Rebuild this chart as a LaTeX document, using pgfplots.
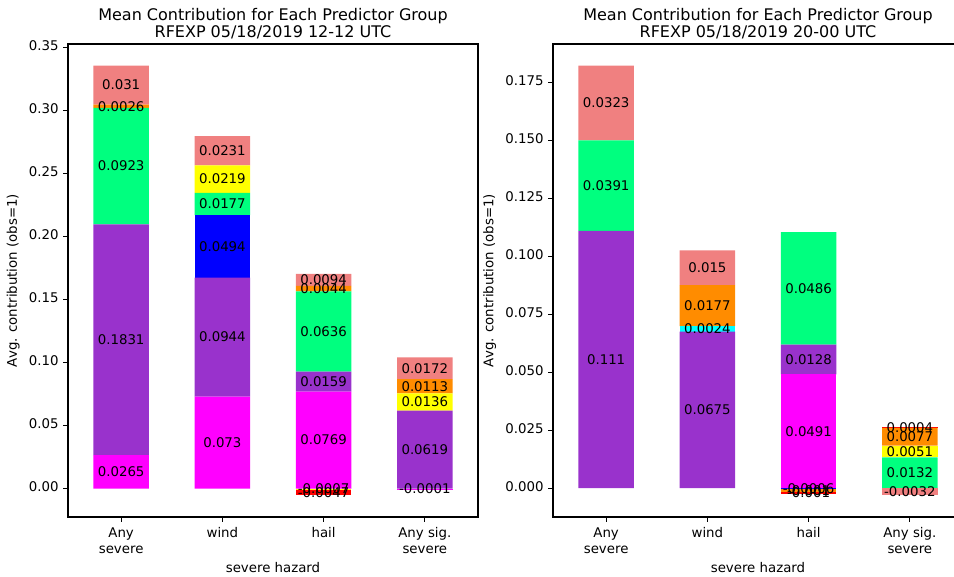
\documentclass[border=0pt]{standalone}
\usepackage{pgfplots}
\pgfplotsset{compat=1.18}
\usepackage{pgfplotstable}
\usepackage{fontspec}
\setmainfont{DejaVu Sans}

\definecolor{cmag}{HTML}{FF00FF}
\definecolor{cpur}{HTML}{9932CC}
\definecolor{cblu}{HTML}{0000FF}
\definecolor{ccya}{HTML}{00FFFF}
\definecolor{cgrn}{HTML}{00FF7F}
\definecolor{cyel}{HTML}{FFFF00}
\definecolor{corg}{HTML}{FF8C00}
\definecolor{cred}{HTML}{FF0000}
\definecolor{csal}{HTML}{F08080}

% Left panel (12-12 UTC): positive contributions
\pgfplotstableread{
x mag pur blu grn yel org sal
0 0.0265 0.1831 0 0.0923 0 0.0026 0.031
1 0.073 0.0944 0.0494 0.0177 0.0219 0 0.0231
2 0.0769 0.0159 0 0.0636 0 0.0044 0.0094
3 0 0.0619 0 0 0.0136 0.0113 0.0172
}\posA
% Left panel: negative contributions
\pgfplotstableread{
x nmag nyel nred
0 0 0 0
1 0 0 0
2 0 -0.0007 -0.0047
3 -0.0001 0 0
}\negA
% Right panel (20-00 UTC): positive contributions
\pgfplotstableread{
x mag pur cya grn yel org red sal
0 0 0.111 0 0.0391 0 0 0 0.0323
1 0 0.0675 0.0024 0 0 0.0177 0 0.015
2 0.0491 0.0128 0 0.0486 0 0 0 0
3 0 0 0 0.0132 0.0051 0.0077 0.0004 0
}\posB
% Right panel: negative contributions
\pgfplotstableread{
x nblu norg nred nsal
0 0 0 0 0
1 0 0 0 0
2 -0.0006 -0.001 -0.001 0
3 0 0 0 -0.0032
}\negB

\pgfplotsset{
  seg/.style 2 args={fill=#2, draw=none, point meta=explicit},
  base/.style={
    scale only axis, width=307.5pt, height=354.75pt,
    anchor=south west,
    ybar stacked, bar width=0.55,
    xmin=-0.525, xmax=3.525,
    /pgf/number format/assume math mode=true,
    nodes near coords={\pgfmathfloatifflags{\pgfplotspointmeta}{0}{}{\pgfmathprintnumber{\pgfplotspointmeta}}},
    nodes near coords align={center},
    every node near coord/.append style={font=\fontsize{10}{12}\selectfont, text=black,
       inner sep=0pt, anchor=center,
       /pgf/number format/fixed, /pgf/number format/precision=4},
  },
  frame/.style={
    tick pos=left, tick align=outside,
    scaled y ticks=false,
    axis line style={line width=0.8pt, black},
    major tick style={line width=0.8pt, black},
    major tick length=3.6pt,
    tick label style={font=\fontsize{10}{12}\selectfont},
    xtick={0,1,2,3},
    xticklabels={{Any\\severe},{wind},{hail},{Any sig.\\severe}},
    xticklabel style={align=center, text depth=0pt},
    typeset ticklabels with strut,
    xlabel={severe hazard}, ylabel={Avg. contribution (obs=1)},
    label style={font=\fontsize{10}{12}\selectfont},
    title style={align=center, font=\fontsize{12}{13}\selectfont, yshift=-6pt},
  },
}

\begin{document}
\begin{tikzpicture}
% ---------- Left panel ----------
\begin{axis}[base, frame, at={(51pt,45pt)},
  ymin=-0.0225, ymax=0.3526,
  ytick={0,0.05,0.1,0.15,0.2,0.25,0.3,0.35},
  yticklabel style={/pgf/number format/fixed, /pgf/number format/fixed zerofill, /pgf/number format/precision=2},
  title={Mean Contribution for Each Predictor Group\\RFEXP 05/18/2019 12-12 UTC}]
\addplot[seg={mag}{cmag}] table[x=x,y=mag,meta=mag]{\posA};
\addplot[seg={pur}{cpur}] table[x=x,y=pur,meta=pur]{\posA};
\addplot[seg={blu}{cblu}] table[x=x,y=blu,meta=blu]{\posA};
\addplot[seg={grn}{cgrn}] table[x=x,y=grn,meta=grn]{\posA};
\addplot[seg={yel}{cyel}] table[x=x,y=yel,meta=yel]{\posA};
\addplot[seg={org}{corg}] table[x=x,y=org,meta=org]{\posA};
\addplot[seg={sal}{csal}] table[x=x,y=sal,meta=sal]{\posA};
\end{axis}
\begin{axis}[base, hide axis, at={(51pt,45pt)},
  ymin=-0.0225, ymax=0.3526]
\addplot[seg={nmag}{cmag}] table[x=x,y=nmag,meta=nmag]{\negA};
\addplot[seg={nyel}{cyel}] table[x=x,y=nyel,meta=nyel]{\negA};
\addplot[seg={nred}{cred}] table[x=x,y=nred,meta=nred]{\negA};
\end{axis}
% ---------- Right panel ----------
\begin{axis}[base, frame, at={(414.75pt,45pt)},
  ymin=-0.0125, ymax=0.1917,
  ytick={0,0.025,0.05,0.075,0.1,0.125,0.15,0.175},
  yticklabel style={/pgf/number format/fixed, /pgf/number format/fixed zerofill, /pgf/number format/precision=3},
  title={Mean Contribution for Each Predictor Group\\RFEXP 05/18/2019 20-00 UTC}]
\addplot[seg={mag}{cmag}] table[x=x,y=mag,meta=mag]{\posB};
\addplot[seg={pur}{cpur}] table[x=x,y=pur,meta=pur]{\posB};
\addplot[seg={cya}{ccya}] table[x=x,y=cya,meta=cya]{\posB};
\addplot[seg={grn}{cgrn}] table[x=x,y=grn,meta=grn]{\posB};
\addplot[seg={yel}{cyel}] table[x=x,y=yel,meta=yel]{\posB};
\addplot[seg={org}{corg}] table[x=x,y=org,meta=org]{\posB};
\addplot[seg={red}{cred}] table[x=x,y=red,meta=red]{\posB};
\addplot[seg={sal}{csal}] table[x=x,y=sal,meta=sal]{\posB};
\end{axis}
\begin{axis}[base, hide axis, at={(414.75pt,45pt)},
  ymin=-0.0125, ymax=0.1917]
\addplot[seg={nblu}{cblu}] table[x=x,y=nblu,meta=nblu]{\negB};
\addplot[seg={norg}{corg}] table[x=x,y=norg,meta=norg]{\negB};
\addplot[seg={nred}{cred}] table[x=x,y=nred,meta=nred]{\negB};
\addplot[seg={nsal}{csal}] table[x=x,y=nsal,meta=nsal]{\negB};
\end{axis}
\pgfresetboundingbox
\useasboundingbox (0,0) rectangle (715.5pt,432.75pt);
\end{tikzpicture}
\end{document}
